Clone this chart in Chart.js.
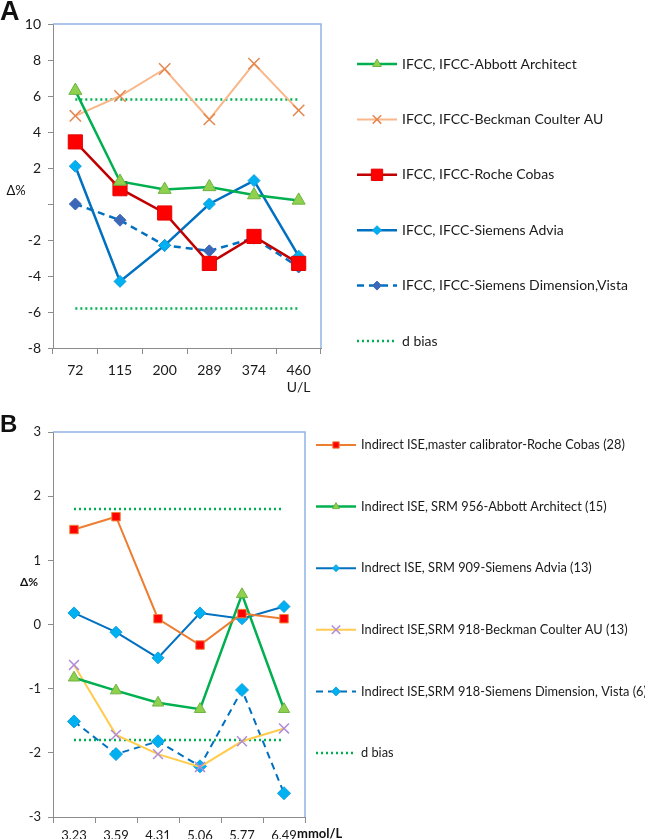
<!DOCTYPE html>
<html>
<head>
<meta charset="utf-8">
<script src="https://cdn.jsdelivr.net/npm/chart.js@4/dist/chart.umd.min.js"></script>
<style>
  body { margin: 0; background: #fff; width: 645px; height: 839px; overflow: hidden; position: relative; }
  .wrap { position: absolute; left: 0; width: 645px; }
  #wrapA { top: 0; height: 400px; }
  #wrapB { top: 400px; height: 439px; }
</style>
</head>
<body>
<div class="wrap" id="wrapA"><canvas id="chartA"></canvas></div>
<div class="wrap" id="wrapB"><canvas id="chartB"></canvas></div>
<script>
// ---- Panel A data (U/L) ----
const catsA      = ['72', '115', '200', '289', '374', ['460', 'U/L']];
const abbottA    = [6.3, 1.25, 0.8, 0.95, 0.5, 0.2];
const beckmanA   = [4.9, 6.0, 7.5, 4.7, 7.8, 5.2];
const rocheA     = [3.45, 0.85, -0.5, -3.3, -1.8, -3.3];
const adviaA     = [2.1, -4.3, -2.3, 0, 1.3, -2.9];
const dimensionA = [0, -0.9, -2.3, -2.6, -1.9, -3.5];
const biasUpA    = [5.8, 5.8, 5.8, 5.8, 5.8, 5.8];
const biasLowA   = [-5.8, -5.8, -5.8, -5.8, -5.8, -5.8];
const yRangeA    = [-8, 10, 2];   // min, max, step

// ---- Panel B data (mmol/L) ----
const catsB      = ['3.23', '3.59', '4.31', '5.06', '5.77', '6.49'];
const rocheB     = [1.48, 1.68, 0.09, -0.32, 0.17, 0.09];
const abbottB    = [-0.83, -1.03, -1.22, -1.32, 0.47, -1.32];
const adviaB     = [0.18, -0.12, -0.52, 0.18, 0.09, 0.28];
const beckmanB   = [-0.63, -1.72, -2.02, -2.22, -1.82, -1.62];
const dimensionB = [-1.51, -2.02, -1.82, -2.21, -1.02, -2.63];
const biasUpB    = [1.8, 1.8, 1.8, 1.8, 1.8, 1.8];
const biasLowB   = [-1.8, -1.8, -1.8, -1.8, -1.8, -1.8];
const yRangeB    = [-3, 3, 1];

Chart.defaults.font.family = 'Lato, "Open Sans", sans-serif';
Chart.defaults.color = '#1a1a1a';

const AXIS = '#8c8c8c';
const FRAME = '#8EB4E3';
const GREEN = '#00B050';

// line + marker legend drawn to the right of the plot
const sideLegend = {
  id: 'sideLegend',
  afterDraw(chart, args, o) {
    const ctx = chart.ctx;
    let i = 0;
    chart.data.datasets.forEach(ds => {
      if (ds.noLegend) return;
      const y = o.top + i * o.step;
      ctx.save();
      ctx.strokeStyle = ds.borderColor;
      ctx.lineWidth = ds.borderWidth;
      ctx.setLineDash(ds.borderDash || []);
      ctx.beginPath();
      ctx.moveTo(o.x0, y);
      ctx.lineTo(o.x1, y);
      ctx.stroke();
      ctx.setLineDash([]);
      if (ds.pointRadius) {
        ctx.fillStyle = ds.pointBackgroundColor;
        ctx.strokeStyle = ds.pointBorderColor;
        ctx.lineWidth = ds.pointBorderWidth;
        Chart.helpers.drawPoint(ctx, {
          pointStyle: ds.pointStyle, radius: ds.legendRadius, rotation: 0, borderWidth: ds.pointBorderWidth
        }, (o.x0 + o.x1) / 2, y);
      }
      ctx.fillStyle = '#1a1a1a';
      ctx.font = o.font;
      ctx.textBaseline = 'middle';
      ctx.textAlign = 'left';
      ctx.fillText(ds.label, o.textX, y);
      ctx.restore();
      i++;
    });
  }
};

// blue top/right frame + panel letter, axis title, unit
const frame = {
  id: 'frame',
  beforeDatasetsDraw(chart) {
    const { ctx, chartArea: a } = chart;
    ctx.save();
    ctx.strokeStyle = FRAME;
    ctx.lineWidth = 1.5;
    ctx.beginPath();
    ctx.moveTo(a.left, a.top);
    ctx.lineTo(a.right, a.top);
    ctx.lineTo(a.right, a.bottom);
    ctx.stroke();
    ctx.restore();
  },
  afterDraw(chart, args, o) {
    const ctx = chart.ctx;
    ctx.save();
    ctx.fillStyle = '#111';
    ctx.textBaseline = 'middle';
    ctx.textAlign = 'left';
    ctx.font = o.letterFont;
    ctx.fillText(o.letter, o.letterX, o.letterY);
    ctx.textAlign = 'center';
    ctx.font = o.titleFont;
    ctx.fillText('Δ%', o.titleX, o.titleY);
    if (o.unit) {
      ctx.textAlign = 'left';
      ctx.font = o.unitFont;
      ctx.fillText(o.unit, o.unitX, o.unitY);
    }
    ctx.restore();
  }
};

function series(label, data, line, width, style, fill, edge, radius, legendRadius, dash) {
  return {
    label, data,
    borderColor: line, borderWidth: width, borderDash: dash || [],
    pointStyle: style, pointRadius: radius, pointHoverRadius: radius,
    pointBackgroundColor: fill, pointBorderColor: edge, pointBorderWidth: style === 'crossRot' ? 1.5 : 1,
    legendRadius, tension: 0, fill: false
  };
}

function bias(data, width, hidden) {
  return {
    label: 'd bias', data, borderColor: GREEN, borderWidth: width, borderDash: [2, 3],
    pointRadius: 0, pointHoverRadius: 0, tension: 0, fill: false, noLegend: hidden
  };
}

function scales(range, yWidth, xHeight, fontY, fontX, xPad, hideZero) {
  return {
    x: {
      offset: true,
      grid: { offset: true, drawOnChartArea: false, drawTicks: true, tickLength: 6, color: AXIS },
      border: { color: AXIS, width: 1 },
      ticks: { font: { size: fontX }, padding: xPad, maxRotation: 0, autoSkip: false, color: '#1a1a1a' },
      afterFit(s) { s.height = xHeight; }
    },
    y: {
      min: range[0], max: range[1],
      grid: { drawOnChartArea: false, drawTicks: true, tickLength: 5, color: AXIS },
      border: { color: AXIS, width: 1 },
      ticks: {
        stepSize: range[2], font: { size: fontY }, padding: 7, color: '#1a1a1a',
        callback: v => (hideZero && v === 0) ? '' : v
      },
      afterFit(s) { s.width = yWidth; }
    }
  };
}

new Chart(document.getElementById('chartA'), {
  type: 'line',
  data: {
    labels: catsA,
    datasets: [
      series('IFCC, IFCC-Abbott Architect', abbottA, GREEN, 2.5, 'triangle', '#8FD14F', '#6DB33F', 7.5, 5),
      series('IFCC, IFCC-Beckman Coulter AU', beckmanA, '#F8B88B', 2, 'crossRot', '#E4874F', '#E4874F', 8, 6),
      series('IFCC, IFCC-Roche Cobas', rocheA, '#C00000', 2.5, 'rect', '#FF0000', '#E50000', 10, 8),
      series('IFCC, IFCC-Siemens Advia', adviaA, '#0070C0', 2.5, 'rectRot', '#00B0F0', '#10A0E0', 6, 4.5),
      series('IFCC, IFCC-Siemens Dimension,Vista', dimensionA, '#0070C0', 2.5, 'rectRot', '#3D68B8', '#3D68B8', 6, 4.5, [7, 5]),
      bias(biasUpA, 2.5, false),
      bias(biasLowA, 2.5, true)
    ]
  },
  options: {
    responsive: true, maintainAspectRatio: false, animation: false,
    layout: { padding: { top: 24, right: 324, left: 0, bottom: 0 } },
    scales: scales(yRangeA, 53, 52, 14, 14, 8, true),
    plugins: {
      legend: { display: false }, tooltip: { enabled: false },
      sideLegend: { x0: 357, x1: 397, textX: 402, top: 64, step: 55.4, font: '14px Lato' },
      frame: {
        letter: 'A', letterX: 0, letterY: 13, letterFont: 'bold 27px "Liberation Sans", Arial',
        titleX: 16, titleY: 191, titleFont: '13px Lato'
      }
    }
  },
  plugins: [sideLegend, frame]
});

new Chart(document.getElementById('chartB'), {
  type: 'line',
  data: {
    labels: catsB,
    datasets: [
      series('Indirect ISE,master calibrator-Roche Cobas (28)', rocheB, '#ED7D31', 2, 'rect', '#FF0000', '#F0803A', 6, 4.5),
      series('Indirect ISE, SRM 956-Abbott Architect (15)', abbottB, GREEN, 2.5, 'triangle', '#8FD14F', '#6DB33F', 6.5, 4),
      series('Indrect ISE, SRM 909-Siemens Advia (13)', adviaB, '#0070C0', 2, 'rectRot', '#00B0F0', '#10A0E0', 6, 3.5),
      series('Indirect ISE,SRM 918-Beckman Coulter AU (13)', beckmanB, '#FFCC4D', 2, 'crossRot', '#B08CD6', '#B08CD6', 7, 6),
      series('Indirect ISE,SRM 918-Siemens Dimension, Vista (6)', dimensionB, '#0070C0', 2, 'rectRot', '#00B0F0', '#10A0E0', 6.5, 4.5, [7, 5]),
      bias(biasUpB, 2.5, false),
      bias(biasLowB, 2.5, true)
    ]
  },
  options: {
    responsive: true, maintainAspectRatio: false, animation: false,
    layout: { padding: { top: 32, right: 340, left: 0, bottom: 0 } },
    scales: scales(yRangeB, 53, 22, 13, 13, 5, false),
    plugins: {
      legend: { display: false }, tooltip: { enabled: false },
      sideLegend: { x0: 316, x1: 356, textX: 361, top: 45, step: 61.6, font: '12.8px Lato' },
      frame: {
        letter: 'B', letterX: 0, letterY: 25, letterFont: 'bold 24px "Liberation Sans", Arial',
        titleX: 29, titleY: 182, titleFont: 'bold 12px Lato',
        unit: 'mmol/L', unitX: 297, unitY: 434, unitFont: 'bold 13px Lato'
      }
    }
  },
  plugins: [sideLegend, frame]
});
</script>
</body>
</html>
